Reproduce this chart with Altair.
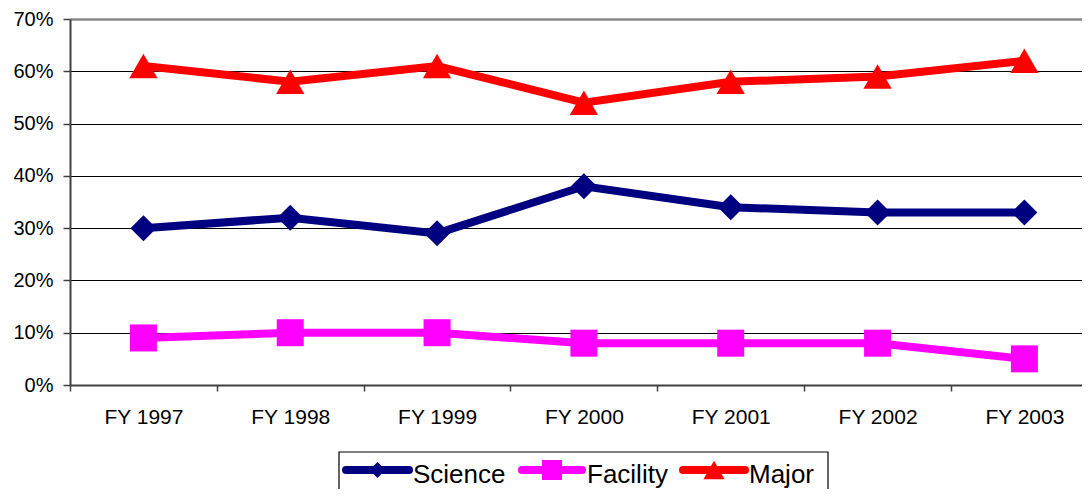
import altair as alt
import pandas as pd

categories = ["FY 1997", "FY 1998", "FY 1999", "FY 2000", "FY 2001", "FY 2002", "FY 2003"]
science = [0.30, 0.32, 0.29, 0.38, 0.34, 0.33, 0.33]
facility = [0.09, 0.10, 0.10, 0.08, 0.08, 0.08, 0.05]
major = [0.61, 0.58, 0.61, 0.54, 0.58, 0.59, 0.62]
series_names = ["Science", "Facility", "Major"]
y_ticks = [0.0, 0.1, 0.2, 0.3, 0.4, 0.5, 0.6, 0.7]

colors = ["#000080", "#FF00FF", "#FF0000"]
shapes = ["diamond", "square", "triangle-up"]
sizes = [676, 729, 800]
legend_sizes = [260, 400, 450]

rows = []
for name, vals in zip(series_names, [science, facility, major]):
    for i, (c, v) in enumerate(zip(categories, vals)):
        rows.append({"idx": i, "year": c, "value": v, "series": name})
df = pd.DataFrame(rows)

FONT = "Liberation Sans"
W, H = 1012, 366
STEP = 146.83
x_domain = [-0.5, -0.5 + W / STEP]
x_values = [k / 2 for k in range(-1, 2 * len(categories))]
cat_js = "[" + ",".join("'" + c + "'" for c in categories) + "]"
label_expr = "(datum.value % 1 == 0) ? " + cat_js + "[datum.value] : ''"

x = alt.X(
    "idx:Q",
    scale=alt.Scale(domain=x_domain, nice=False, zero=False),
    axis=alt.Axis(
        title=None, labelAngle=0, values=x_values,
        labelExpr=label_expr,
        labelOverlap=False, labelFlush=False,
        tickSize=6, tickWidth=1.5, tickColor="#404040",
        tickOpacity={"condition": {"test": "datum.value % 1 != 0", "value": 1}, "value": 0},
        domainColor="#404040", domainWidth=2,
        labelFontSize=21, labelFont=FONT, labelColor="black", labelPadding=15,
        grid=False,
    ),
)
y = alt.Y(
    "value:Q",
    scale=alt.Scale(domain=[0, 0.7], nice=False, zero=True),
    axis=alt.Axis(
        title=None, format=".0%", values=y_ticks, tickSize=7, tickWidth=1.5,
        tickColor="#404040", domainColor="#404040", domainWidth=2,
        labelFontSize=20, labelFont=FONT, labelColor="black", labelPadding=10,
        grid=True,
        gridColor={"condition": {"test": "datum.value >= 0.69", "value": "#888888"}, "value": "#000000"},
        gridWidth={"condition": {"test": "datum.value >= 0.69", "value": 2.5}, "value": 1},
        gridOpacity=1,
    ),
)

layers = []
for name, col in zip(series_names, colors):
    base = alt.Chart(df).transform_filter(alt.datum.series == name)
    layers.append(base.mark_line(color=col, strokeWidth=8).encode(x=x, y=y))
for name, col, shp, sz in zip(series_names, colors, shapes, sizes):
    base = alt.Chart(df).transform_filter(alt.datum.series == name)
    layers.append(
        base.mark_point(shape=shp, size=sz, filled=True, color=col, opacity=1).encode(x=x, y=y)
    )

# legend
leg_df = pd.DataFrame({"series": series_names})
box = alt.Chart(leg_df.head(1)).mark_rect(fillOpacity=0, stroke="black", strokeWidth=1.2).encode(
    x=alt.value(269), x2=alt.value(758), y=alt.value(433), y2=alt.value(540)
)
layers.append(box)
leg_line_x = [(276, 339), (452, 512), (613, 675)]
leg_text_x = [343, 517, 679]
LY = 451
for i, (name, col, shp, lsz) in enumerate(zip(series_names, colors, shapes, legend_sizes)):
    d = leg_df[leg_df.series == name]
    x1, x2 = leg_line_x[i]
    layers.append(
        alt.Chart(d).mark_rule(color=col, strokeWidth=8, strokeCap="round").encode(
            x=alt.value(x1), x2=alt.value(x2), y=alt.value(LY)
        )
    )
    layers.append(
        alt.Chart(d).mark_point(shape=shp, size=lsz, filled=True, color=col, opacity=1).encode(
            x=alt.value((x1 + x2) / 2), y=alt.value(LY)
        )
    )
    layers.append(
        alt.Chart(d).mark_text(align="left", baseline="alphabetic", fontSize=26, font=FONT, color="black").encode(
            x=alt.value(leg_text_x[i]), y=alt.value(464), text="series:N"
        )
    )

chart = alt.layer(*layers).properties(
    width=W, height=H,
    padding={"left": 62, "top": 11, "right": 0, "bottom": 104},
    autosize=alt.AutoSizeParams(type="none"),
    background="white",
).configure_view(stroke=None)

chart.save("out.html", embed_options={"renderer": "svg", "actions": False})
